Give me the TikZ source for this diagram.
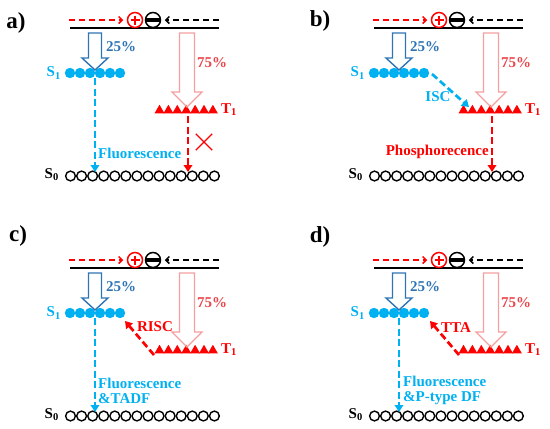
\documentclass[tikz,border=0pt]{standalone}
\usepackage{fontspec}
\setmainfont{Liberation Serif}
\usetikzlibrary{arrows.meta,shapes.geometric,shapes.misc,calc}
\definecolor{cyanC}{HTML}{00B0F0}
\definecolor{blueC}{HTML}{2E75B6}
\definecolor{pinkC}{HTML}{F4A0A0}
\definecolor{redT}{HTML}{E8474C}
\tikzset{
  lbl/.style={font=\fontsize{15}{15}\selectfont\bfseries, inner sep=0pt},
  panellbl/.style={font=\fontsize{23}{23}\selectfont\bfseries, inner sep=0pt},
  level/.style={line width=2pt},
  topdash/.style={line width=1.5pt, dash pattern=on 6pt off 4pt, -{Straight Barb[length=3.5pt,width=7pt]}, shorten >=3.5pt},
  vdash/.style={line width=2.7pt, dash pattern=on 7pt off 3.5pt, -{Triangle[length=7pt,width=8.5pt]}},
  s1dot/.style={circle, fill=cyanC, inner sep=0pt, minimum size=10.4pt},
  s0dot/.style={circle, draw=black, line width=1.4pt, inner sep=0pt, minimum size=9.8pt},
  tri/.style={regular polygon, regular polygon sides=3, fill=red, inner sep=0pt, minimum size=11.5pt},
  bluehollow/.style={draw=blueC, line width=1.4pt, line join=miter},
  pinkhollow/.style={draw=pinkC, line width=1.4pt, line join=miter},
  pluscirc/.style={circle, draw=red, line width=1.5pt, minimum size=15pt, inner sep=0pt,
    path picture={\draw[red,line width=2pt] ([xshift=3pt]path picture bounding box.west) -- ([xshift=-3pt]path picture bounding box.east)
      ([yshift=-3pt]path picture bounding box.north) -- ([yshift=3pt]path picture bounding box.south);}},
  minuscirc/.style={circle, draw=black, line width=1.5pt, minimum size=15pt, inner sep=0pt,
    path picture={\fill[black] ([yshift=-1.9pt]path picture bounding box.west) rectangle ([yshift=1.9pt]path picture bounding box.east);}},
  crossmark/.style={cross out, draw=red, line width=1.3pt, minimum size=15pt, inner sep=0pt},
}
\newcommand\panelbase[3]{%
  \node[panellbl] (#1-lab) at (#3) {#2};
  \coordinate (#1-L) at (70,28); \coordinate (#1-R) at (219,28);
  \draw[level] (#1-L) -- (#1-R);
  \node[pluscirc] (#1-plus) at (135,20) {};
  \node[minuscirc] (#1-minus) at (153,20) {};
  \coordinate (#1-rs) at (69,20); \coordinate (#1-bs) at (219,20);
  \draw[topdash, red] (#1-rs) -- (#1-plus);
  \draw[topdash, black] (#1-bs) -- (#1-minus);
  % S1
  \foreach \i in {0,...,5} \node[s1dot] (#1-s1-\i) at ({70+10*\i},73) {};
  \node[lbl, cyanC, anchor=east] (#1-s1lab) at (61,73) {S\textsubscript{\bfseries 1}};
  % T1
  \foreach \i in {0,...,6} \node[tri] (#1-t1-\i) at ({159.5+8.9*\i},110.5) {};
  \node[lbl, red, anchor=west] (#1-t1lab) at (221,110) {T\textsubscript{\bfseries 1}};
  % S0
  \foreach \i in {0,...,13} \node[s0dot] (#1-s0-\i) at ({70.5+11.07*\i},176) {};
  \node[lbl, black, anchor=east] (#1-s0lab) at (59,175) {S\textsubscript{\bfseries 0}};
  % hollow arrows
  \draw[bluehollow] (88.5,33) -- (101.5,33) -- (101.5,58) -- (108,58) -- (95,70) -- (82,58) -- (88.5,58) -- cycle;
  \node[lbl, blueC] (#1-p25) at (121,47) {25\%};
  \draw[pinkhollow] (179.5,33) -- (194.5,33) -- (194.5,92) -- (202,92) -- (187,107) -- (172,92) -- (179.5,92) -- cycle;
  \node[lbl, redT] (#1-p75) at (212,63) {75\%};
}
\begin{document}
\begin{tikzpicture}[x=1pt,y=-1pt]
\useasboundingbox (0,0) rectangle (550,429);
% ---------- a)
\begin{scope}
  \panelbase{a}{a)}{16,23}
  \coordinate (a-fs) at (95,78); \coordinate (a-fe) at (95,172);
  \draw[vdash, cyanC] (a-fs) -- (a-fe);
  \node[lbl, cyanC, anchor=west] (a-fl) at (98,153) {Fluorescence};
  \coordinate (a-ps) at (188,116); \coordinate (a-pe) at (188,172);
  \draw[vdash, red] (a-ps) -- (a-pe);
  \node[crossmark] (a-x) at (204,142) {};
\end{scope}
% ---------- b)
\begin{scope}[shift={(304,0)}]
  \panelbase{b}{b)}{16,21}
  \coordinate (b-is) at (128,74); \coordinate (b-ie) at (165,107);
  \draw[vdash, cyanC] (b-is) -- (b-ie);
  \node[lbl, cyanC] (b-isc) at (134,97) {ISC};
  \coordinate (b-ps) at (188,116); \coordinate (b-pe) at (188,172);
  \draw[vdash, red] (b-ps) -- (b-pe);
  \node[lbl, red, anchor=east] (b-ph) at (185,152) {Phosphorecence};
\end{scope}
% ---------- c)
\begin{scope}[shift={(0,240)}]
  \panelbase{c}{c)}{18,-4}
  \coordinate (c-fs) at (95,78); \coordinate (c-fe) at (95,172);
  \draw[vdash, cyanC] (c-fs) -- (c-fe);
  \node[lbl, cyanC, anchor=west, align=left] (c-fl) at (98,150.5) {Fluorescence\\\&TADF};
  \coordinate (c-rs) at (154,115); \coordinate (c-re) at (125,81);
  \draw[vdash, red] (c-rs) -- (c-re);
  \node[lbl, red] (c-risc) at (155,87) {RISC};
\end{scope}
% ---------- d)
\begin{scope}[shift={(304,240)}]
  \panelbase{d}{d)}{16,-3}
  \coordinate (d-fs) at (95,78); \coordinate (d-fe) at (95,172);
  \draw[vdash, cyanC] (d-fs) -- (d-fe);
  \node[lbl, cyanC, anchor=west, align=left] (d-fl) at (99,150.5) {Fluorescence\\\&P-type DF};
  \coordinate (d-ts) at (155,115); \coordinate (d-te) at (126,81);
  \draw[vdash, red] (d-ts) -- (d-te);
  \node[lbl, red] (d-tta) at (152,88) {TTA};
\end{scope}
\end{tikzpicture}
\end{document}
